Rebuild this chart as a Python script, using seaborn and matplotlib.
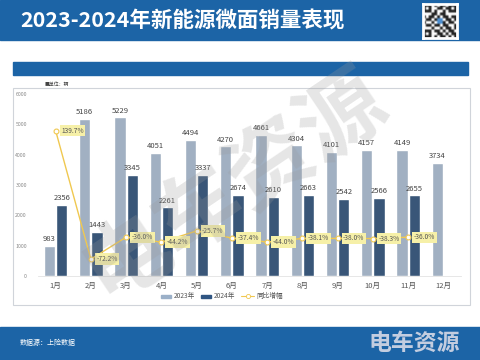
import numpy as np
import pandas as pd
import matplotlib
matplotlib.use('Agg')
import matplotlib.pyplot as plt
import seaborn as sns
from matplotlib.patches import Rectangle

sns.set_style('white')
plt.rcParams['font.family'] = ['Noto Sans CJK SC', 'DejaVu Sans']

# data
months = ['1月', '2月', '3月', '4月', '5月', '6月', '7月', '8月', '9月', '10月', '11月', '12月']
sales_2023 = [983, 5186, 5229, 4051, 4494, 4270, 4661, 4304, 4101, 4157, 4149, 3734]
sales_2024 = [2356, 1443, 3345, 2261, 3337, 2674, 2610, 2663, 2542, 2566, 2655, np.nan]
yoy = [139.7, -72.2, -36.0, -44.2, -25.7, -37.4, -44.0, -38.1, -38.0, -38.3, -36.0, np.nan]

BLUE = '#1c64a6'
C23 = '#9bb0c8'
C24 = '#2f5582'
LINE = '#f0c850'

W, H = 480, 360
fig = plt.figure(figsize=(4.8, 3.6), dpi=100)


def box(x, y, w, h):
    # pixel box (top-left origin) -> figure fraction
    return [x / W, 1 - (y + h) / H, w / W, h / H]


# header / footer bands
fig.patches.append(Rectangle((0, 1 - 40 / H), 1, 40 / H, transform=fig.transFigure,
                             color=BLUE, zorder=-2))
fig.patches.append(Rectangle((13 / W, 1 - 75 / H), 455 / W, 13 / H, transform=fig.transFigure,
                             color=BLUE, zorder=-2))
fig.patches.append(Rectangle((0, 0), 1, 33 / H, transform=fig.transFigure, color=BLUE, zorder=-2))
fig.patches.append(Rectangle((13 / W, 1 - 305 / H), 457 / W, 217 / H, transform=fig.transFigure,
                             facecolor='white', edgecolor='#d0d4da', lw=0.8, zorder=-2))

fig.text(20 / W, 1 - 21 / H, '2023-2024年新能源微面销量表现', color='white', fontsize=15.5,
         fontweight='bold', va='center', ha='left')
fig.text(20 / W, 1 - 343 / H, '数据源：上险数据', color='white', fontsize=5, va='center')
fig.text(460 / W, 1 - 343 / H, '电车资源', color='#c3cde0', fontsize=16.5, fontweight='bold',
         va='center', ha='right')
fig.text(45 / W, 1 - 85 / H, '■单位：辆', color='#444444', fontsize=3.5, va='center')

# qr-code like badge
qr = fig.add_axes(box(423, 4, 34, 34))
pattern = np.array([
    [1, 1, 1, 0, 1, 0, 1, 1, 0, 1, 1, 1],
    [1, 0, 1, 0, 0, 1, 1, 0, 1, 1, 0, 1],
    [1, 1, 1, 0, 1, 0, 0, 1, 0, 1, 1, 1],
    [0, 0, 0, 1, 1, 0, 1, 1, 0, 0, 0, 0],
    [1, 0, 1, 1, 0, 1, 0, 1, 1, 0, 1, 1],
    [0, 1, 1, 0, 1, 2, 2, 0, 1, 1, 0, 1],
    [1, 0, 0, 1, 0, 2, 2, 1, 0, 1, 1, 0],
    [0, 1, 1, 0, 1, 1, 0, 1, 1, 0, 0, 1],
    [0, 0, 0, 1, 0, 0, 1, 0, 1, 1, 0, 1],
    [1, 1, 1, 0, 1, 1, 0, 1, 0, 1, 1, 0],
    [1, 0, 1, 0, 0, 1, 1, 0, 1, 0, 1, 1],
    [1, 1, 1, 0, 1, 0, 1, 1, 0, 1, 0, 1],
])
qr.imshow(pattern, cmap=matplotlib.colors.ListedColormap(['white', '#222222', '#4d8fd1']),
          vmin=0, vmax=2)
qr.set_xticks([])
qr.set_yticks([])
for s in qr.spines.values():
    s.set_color('white')
    s.set_linewidth(2)

# main chart
ax = fig.add_axes(box(38, 94, 423, 182))
ax.patch.set_alpha(0)
df = pd.DataFrame({'月份': months * 2,
                   '销量': sales_2023 + sales_2024,
                   '年份': ['2023年'] * 12 + ['2024年'] * 12})
sns.barplot(data=df, x='月份', y='销量', hue='年份', palette=[C23, C24],
            width=0.7, gap=0.1, ax=ax, legend=False)
ax.set_ylim(0, 6000)
ax.set_xlim(-0.5, 11.5)
ax.set_yticks(range(0, 6001, 1000))
ax.tick_params(axis='y', labelsize=3.8, colors='#888888', length=0, pad=8)
ax.tick_params(axis='x', labelsize=5.5, colors='#555555', length=0, pad=4)
ax.set_xlabel('')
ax.set_ylabel('')
for s in ['top', 'right', 'left']:
    ax.spines[s].set_visible(False)
ax.spines['bottom'].set_color('#e3e3e3')
ax.spines['bottom'].set_linewidth(0.6)
for cont in ax.containers:
    labels = ['' if np.isnan(v) else f'{v:.0f}' for v in cont.datavalues]
    ax.bar_label(cont, labels=labels, fontsize=5.5, color='#444444', padding=2)

ax2 = ax.twinx()
x = np.arange(len(months))
ax2.plot(x, yoy, color=LINE, lw=1, marker='o', ms=3.5, mfc='white', mec=LINE, mew=0.8)
ax2.set_ylim(-100, 200)
ax2.set_yticks([])
for s in ax2.spines.values():
    s.set_visible(False)
for xi, v in zip(x, yoy):
    if np.isnan(v):
        continue
    ax2.annotate(f'{v:.1f}%', (xi, v), xytext=(4, 0), textcoords='offset points',
                 fontsize=4.8, color='#555555', va='center', ha='left',
                 bbox=dict(boxstyle='square,pad=0.25', fc='#f6f0a8', ec='none'))

# legend
fig.patches.append(Rectangle((161 / W, 1 - 298 / H), 10 / W, 3 / H, transform=fig.transFigure,
                             color=C23))
fig.text(174 / W, 1 - 296 / H, '2023年', fontsize=4.8, color='#555555', va='center')
fig.patches.append(Rectangle((201 / W, 1 - 298 / H), 10 / W, 3 / H, transform=fig.transFigure,
                             color=C24))
fig.text(214 / W, 1 - 296 / H, '2024年', fontsize=4.8, color='#555555', va='center')
fig.lines.append(plt.Line2D([241 / W, 254 / W], [1 - 296 / H] * 2, transform=fig.transFigure,
                            color=LINE, lw=0.8))
fig.lines.append(plt.Line2D([247.5 / W], [1 - 296 / H], transform=fig.transFigure,
                            color=LINE, marker='o', ms=3, mfc='white', mec=LINE, mew=0.6))
fig.text(256 / W, 1 - 296 / H, '同比增幅', fontsize=4.8, color='#555555', va='center')

# watermark
fig.text(235 / W, 1 - 185 / H, '电车资源', fontsize=62, fontweight='bold', color='#9a9a9a',
         alpha=0.25, rotation=34, ha='center', va='center', zorder=10)

fig.savefig('out.png', dpi=100)
